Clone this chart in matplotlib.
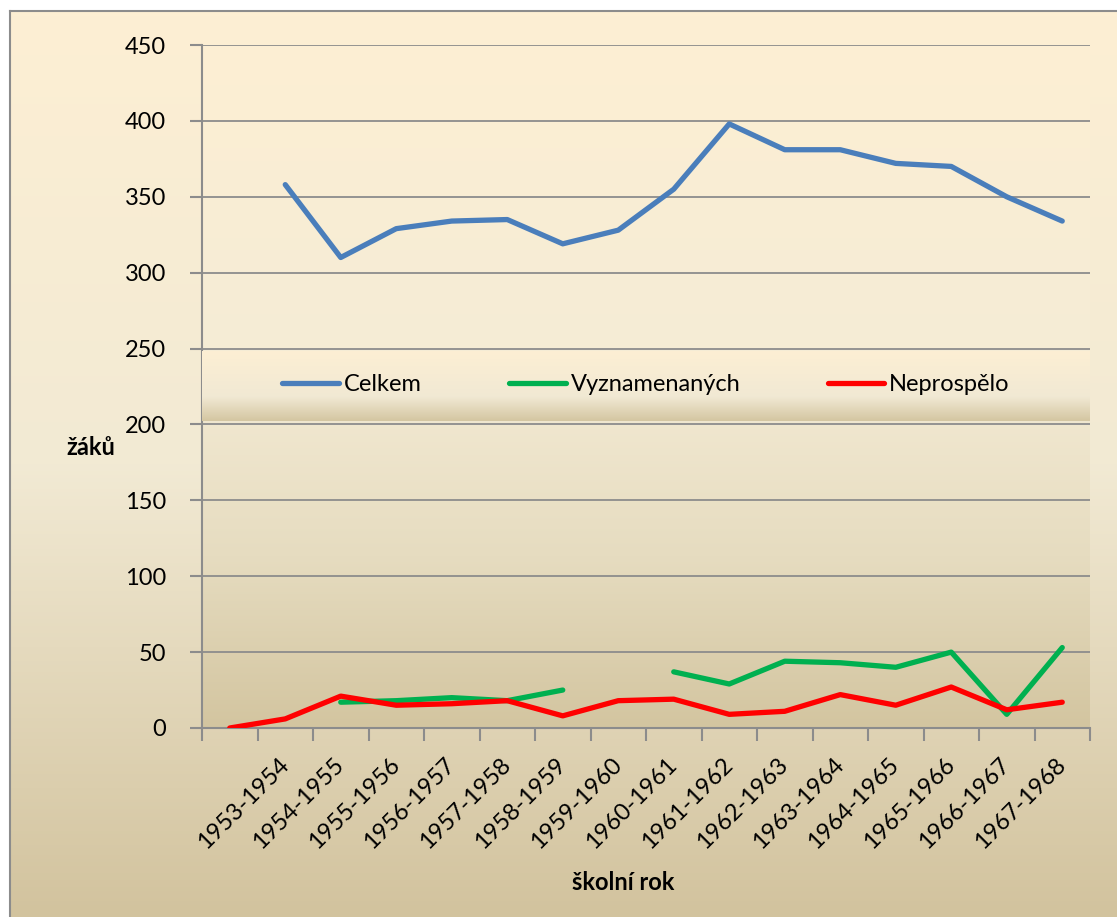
import numpy as np
import matplotlib
matplotlib.use('Agg')
import matplotlib.pyplot as plt
from matplotlib.colors import LinearSegmentedColormap

plt.rcParams['font.family'] = ['Lato', 'DejaVu Sans']

# data
roky = ['', '1953-1954', '1954-1955', '1955-1956', '1956-1957', '1957-1958',
        '1958-1959', '1959-1960', '1960-1961', '1961-1962', '1962-1963',
        '1963-1964', '1964-1965', '1965-1966', '1966-1967', '1967-1968']
celkem = [None, 358, 310, 329, 334, 335, 319, 328, 355, 398, 381, 381, 372, 370, 350, 334]
vyznamenanych = [None, None, 17, 18, 20, 18, 25, None, 37, 29, 44, 43, 40, 50, 9, 53]
neprospelo = [0, 6, 21, 15, 16, 18, 8, 18, 19, 9, 11, 22, 15, 27, 12, 17]

W, H = 1117, 917
fs = 17
fig = plt.figure(figsize=(W / 100, H / 100), dpi=100, facecolor='white')

grey = '#8C8C8C'


def grad(ax, stops):
    cmap = LinearSegmentedColormap.from_list('g', stops)
    ax.imshow(np.linspace(0, 1, 256).reshape(-1, 1), cmap=cmap, aspect='auto',
              extent=(0, 1, 0, 1), transform=ax.transAxes, zorder=0, interpolation='bicubic')


# pozadi celeho grafu
bg = fig.add_axes([10 / W, 0, 1 - 10 / W, (H - 11) / H])
grad(bg, [(0, '#FDEFD3'), (0.5, '#F2EAD4'), (1, '#D2C39E')])
bg.set_xlim(0, 1)
bg.set_ylim(0, 1)
bg.set_xticks([])
bg.set_yticks([])
for s in ['right', 'bottom']:
    bg.spines[s].set_visible(False)
for s in ['left', 'top']:
    bg.spines[s].set_color(grey)
    bg.spines[s].set_linewidth(1.5)

# oblast grafu
ax = fig.add_axes([202 / W, (H - 728) / H, 888 / W, 683 / H])
ax.set_facecolor('none')
grad(ax, [(0, '#FDEFD3'), (0.45, '#F5ECD6'), (0.75, '#E6DCC0'), (1, '#D3C5A0')])

n = len(roky)
x = np.arange(n) + 0.5
to_arr = lambda v: np.array([np.nan if a is None else a for a in v], dtype=float)

ax.plot(x, to_arr(celkem), color='#4A7EBB', lw=3.8, solid_capstyle='round', zorder=3, label='Celkem')
ax.plot(x, to_arr(vyznamenanych), color='#00B050', lw=3.8, solid_capstyle='round', zorder=3, label='Vyznamenaných')
ax.plot(x, to_arr(neprospelo), color='#FF0000', lw=3.8, solid_capstyle='round', zorder=4, label='Neprospělo')

ax.set_xlim(0, n)
ax.set_ylim(0, 450)
ax.set_yticks(np.arange(0, 451, 50))
ax.set_xticks(np.arange(0, n + 1))
ax.set_xticklabels([])
ax.set_xticks(x, minor=True)
ax.set_xticklabels(roky, minor=True, rotation=45, ha='right', va='center',
                   rotation_mode='anchor', fontsize=fs)
ax.tick_params(axis='x', which='minor', length=0, pad=24)
ax.tick_params(axis='x', which='major', length=9, width=1.5, color=grey, direction='out')
ax.tick_params(axis='y', length=9, width=1.5, color=grey, labelsize=fs, pad=17)
for s in ['top', 'right']:
    ax.spines[s].set_visible(False)
for s in ['left', 'bottom']:
    ax.spines[s].set_color(grey)
    ax.spines[s].set_linewidth(1.5)
for yv in np.arange(50, 451, 50):
    ax.axhline(yv, color=grey, lw=1.3, zorder=1)

ax.set_ylabel('žáků', rotation=0, fontsize=fs, fontweight='bold', va='center')
ax.yaxis.set_label_coords(-0.125, 0.411)
ax.set_xlabel('školní rok', fontsize=fs, fontweight='bold', va='center')
ax.xaxis.set_label_coords(0.474, -0.2255)

# legenda
lax = fig.add_axes([202 / W, (H - 421) / H, 888 / W, 70 / H])
grad(lax, [(0, '#FDEFD3'), (0.65, '#F1E9D4'), (1, '#D4C6A1')])
lax.set_xlim(0, 1)
lax.set_ylim(0, 1)
lax.axis('off')
handles, labels = ax.get_legend_handles_labels()
lax.legend(handles, labels, loc='center', ncol=3, frameon=False, fontsize=fs,
           handlelength=2.4, handletextpad=0.2, columnspacing=3.7,
           bbox_to_anchor=(0.5, 0.52))

fig.savefig('out.png', dpi=100, facecolor='white')
